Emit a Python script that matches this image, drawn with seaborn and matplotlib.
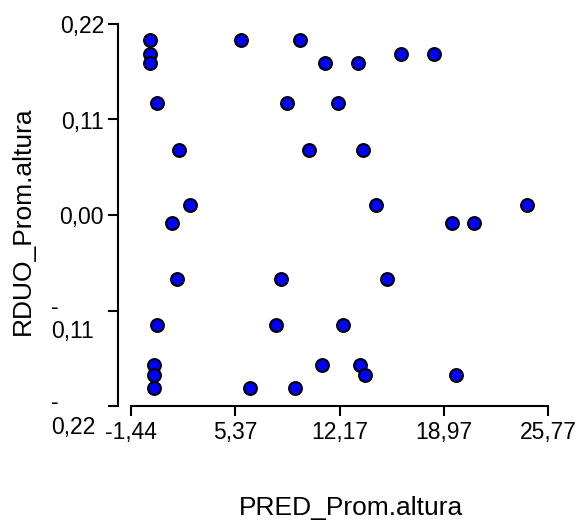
import matplotlib
matplotlib.use("Agg")
import matplotlib.pyplot as plt
import matplotlib.transforms as mtransforms
import seaborn as sns
import pandas as pd

# values
pred = [-0.20, -0.20, -0.20, 5.73, 9.58, 0.24, 8.75, 1.69, 2.39, 1.23,
        11.21, 13.38, 16.14, 18.29, 12.05, 10.18, 13.66, 14.53, 19.47, 20.90,
        24.38, 1.54, 8.37, 15.23, 0.24, 8.01, 12.36, 0.04, 0.04, 0.04,
        6.32, 9.28, 11.03, 13.51, 13.83, 19.75]
rduo = [0.201, 0.186, 0.175, 0.201, 0.201, 0.129, 0.129, 0.075, 0.011, -0.009,
        0.175, 0.175, 0.186, 0.186, 0.129, 0.075, 0.075, 0.011, -0.009, -0.009,
        0.011, -0.074, -0.074, -0.074, -0.127, -0.127, -0.127, -0.173, -0.184, -0.199,
        -0.199, -0.199, -0.173, -0.173, -0.184, -0.184]

x_ticks = [-1.44, 5.37, 12.17, 18.97, 25.77]
x_ticklabels = ["-1,44", "5,37", "12,17", "18,97", "25,77"]
y_ticks = [0.22, 0.11, 0.00, -0.11, -0.22]
y_ticklabels = ["0,22", "0,11", "0,00", "-\n0,11", "-\n0,22"]

df = pd.DataFrame({"PRED_Prom.altura": pred, "RDUO_Prom.altura": rduo})

sns.set_style("ticks")
plt.rcParams["font.family"] = ["Liberation Sans", "DejaVu Sans"]
plt.rcParams["text.color"] = "black"
plt.rcParams["axes.labelcolor"] = "black"

fig = plt.figure(figsize=(5.79, 5.26), dpi=100)
ax = fig.add_axes([118 / 579, 120 / 526, 442 / 579, 382 / 526])

sns.scatterplot(data=df, x="PRED_Prom.altura", y="RDUO_Prom.altura", ax=ax,
                color="#0000ff", edgecolor="black", linewidth=1.5, s=85,
                clip_on=False, zorder=3)

ax.set_xlim(-2.287, 26.53)
ax.set_ylim(-0.22, 0.22)

# detached axes, InfoStat style
sns.despine(ax=ax)
ax.spines["bottom"].set_bounds(-1.44, 25.77)
ax.spines["left"].set_bounds(-0.22, 0.22)
for side in ["bottom", "left"]:
    ax.spines[side].set_linewidth(1.5)
    ax.spines[side].set_color("black")

ax.set_xticks(x_ticks)
ax.set_xticklabels(x_ticklabels)
ax.set_yticks(y_ticks)
# negative labels wrap onto two lines, drawn below as left-aligned text
ax.set_yticklabels([lbl if "\n" not in lbl else "" for lbl in y_ticklabels])
ax.tick_params(axis="both", length=7, width=1.5, color="black",
               labelsize=16.5, labelcolor="black")
ax.tick_params(axis="y", pad=3)
ax.tick_params(axis="x", pad=4)

shift = mtransforms.ScaledTranslation(0, -9 / 100, fig.dpi_scale_trans)
trans = mtransforms.blended_transform_factory(ax.transAxes, ax.transData) + shift
for val, lbl in zip(y_ticks, y_ticklabels):
    if "\n" in lbl:
        ax.text(-0.1516, val, lbl, transform=trans, ha="left", va="center",
                multialignment="left", fontsize=16.5, linespacing=1.1,
                color="black")

ax.set_xlabel("PRED_Prom.altura", fontsize=19, va="center")
ax.xaxis.set_label_coords(0.528, -0.267)
ax.set_ylabel("RDUO_Prom.altura", fontsize=19, va="center")
ax.yaxis.set_label_coords(-0.215, 0.485)

fig.savefig("out.png", dpi=100, facecolor="white")
